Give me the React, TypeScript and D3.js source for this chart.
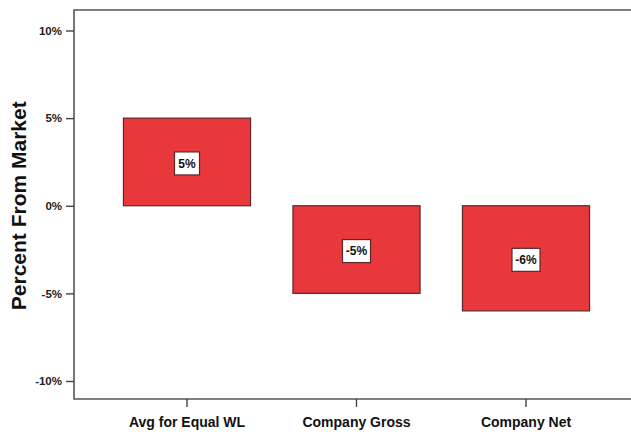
import React, { useEffect, useRef } from 'react';
import * as d3 from 'd3';

const categories = ['Avg for Equal WL', 'Company Gross', 'Company Net'];
const values = [5, -5, -6];
const tickValues = [-10, -5, 0, 5, 10];

const App = () => {
  const ref = useRef<SVGSVGElement>(null);

  useEffect(() => {
    const width = 631;
    const left = 74;
    const top = 10;
    const bottom = 399;

    const svg = d3.select(ref.current);
    svg.selectAll('*').remove();

    const x = d3
      .scaleBand()
      .domain(categories)
      .range([102.25, 610.75])
      .paddingInner(0.25)
      .paddingOuter(0.125);
    const y = d3.scaleLinear().domain([-10, 10]).range([381, 30.5]);

    const font = 'Arial, "Liberation Sans", sans-serif';

    // frame (top + left + bottom, right runs off the picture)
    svg
      .append('path')
      .attr('d', `M${width + 2},${top} H${left} V${bottom} H${width + 2}`)
      .attr('fill', 'none')
      .attr('stroke', '#555')
      .attr('stroke-width', 1.6);

    // y axis
    const yAxis = svg
      .append('g')
      .attr('transform', `translate(${left},0)`)
      .call(
        d3
          .axisLeft(y)
          .tickValues(tickValues)
          .tickSize(8)
          .tickPadding(4)
          .tickFormat((d) => `${d}%`)
      );
    yAxis.select('.domain').remove();
    yAxis.selectAll('line').attr('stroke', '#444').attr('stroke-width', 1.4);
    yAxis
      .selectAll('text')
      .attr('font-family', font)
      .attr('font-weight', 'bold')
      .attr('font-size', 11.5)
      .attr('fill', '#222');

    // x axis
    const xAxis = svg
      .append('g')
      .attr('transform', `translate(0,${bottom})`)
      .call(d3.axisBottom(x).tickSize(8).tickPadding(10));
    xAxis.select('.domain').remove();
    xAxis.selectAll('line').attr('stroke', '#444').attr('stroke-width', 1.4);
    xAxis
      .selectAll('text')
      .attr('font-family', font)
      .attr('font-weight', 'bold')
      .attr('font-size', 14)
      .attr('fill', '#111');

    // bars
    const data = categories.map((c, i) => ({ c, v: values[i] }));
    svg
      .selectAll('rect.bar')
      .data(data)
      .enter()
      .append('rect')
      .attr('class', 'bar')
      .attr('x', (d) => x(d.c)!)
      .attr('y', (d) => y(Math.max(0, d.v)))
      .attr('width', x.bandwidth())
      .attr('height', (d) => Math.abs(y(d.v) - y(0)))
      .attr('fill', '#e8383b')
      .attr('stroke', '#5a2a2a')
      .attr('stroke-width', 1.2);

    // value labels
    const labels = svg
      .selectAll('g.lbl')
      .data(data)
      .enter()
      .append('g')
      .attr('class', 'lbl')
      .attr(
        'transform',
        (d) => `translate(${x(d.c)! + x.bandwidth() / 2},${(y(d.v) + y(0)) / 2 + 1.5})`
      );
    labels
      .append('rect')
      .attr('x', (d) => (d.v < 0 ? -14 : -12.5))
      .attr('y', -11.5)
      .attr('width', (d) => (d.v < 0 ? 28 : 25))
      .attr('height', 23)
      .attr('fill', '#fff')
      .attr('stroke', '#5a2a2a')
      .attr('stroke-width', 1.2);
    labels
      .append('text')
      .attr('text-anchor', 'middle')
      .attr('dy', '0.35em')
      .attr('font-family', font)
      .attr('font-weight', 'bold')
      .attr('font-size', 12)
      .attr('fill', '#111')
      .text((d) => `${d.v}%`);

    // y title
    svg
      .append('text')
      .attr('transform', `translate(26,${(y(10) + y(-10)) / 2}) rotate(-90)`)
      .attr('text-anchor', 'middle')
      .attr('font-family', font)
      .attr('font-weight', 'bold')
      .attr('font-size', 21)
      .attr('fill', '#111')
      .text('Percent From Market');
  }, []);

  return (
    <svg
      ref={ref}
      width={631}
      height={432}
      style={{ position: 'absolute', left: 0, top: 0, background: '#fff' }}
    />
  );
};

export default App;
